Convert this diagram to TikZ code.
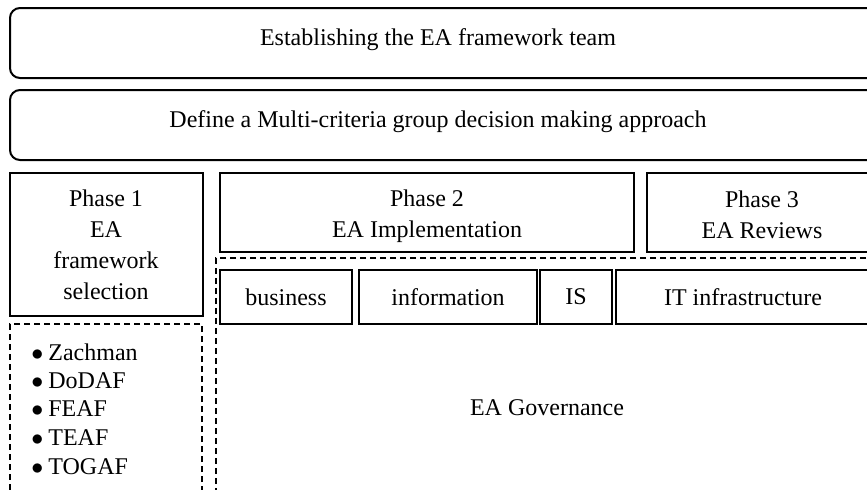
\documentclass[tikz,border=0pt]{standalone}
\usepackage{fontspec}
\setmainfont{Liberation Serif}
\usetikzlibrary{fit}
\newcommand{\bulletitem}[1]{$\bullet$\hspace{2.5pt}#1}
\begin{document}
\begin{tikzpicture}[x=0.5pt,y=-0.5pt,
  roundbox/.style={draw, line width=1pt, rounded corners=5pt, inner sep=0pt},
  phasebox/.style={draw, line width=1pt, inner sep=0pt},
  dashbox/.style={draw, line width=0.8pt, dash pattern=on 3pt off 2pt, inner sep=0pt},
  lbl/.style={font=\fontsize{12}{15.5}\selectfont, align=center, inner sep=0pt},
  item/.style={font=\fontsize{12}{14}\selectfont, anchor=west, inner sep=0pt}]
\clip (0,0) rectangle (867,489);
% top rows
\node[roundbox, fit={(10,8) (890,78)}] (team) {};
\node[lbl] (teamtxt) at (438,40) {Establishing the EA framework team};
\node[roundbox, fit={(10,90) (890,160)}] (mcgdm) {};
\node[lbl] (mcgdmtxt) at (438,122) {Define a Multi-criteria group decision making approach};
% phases
\node[phasebox, fit={(10,173) (203,316)}] (ph1) {};
\node[lbl] (ph1txt) at (106,245) {Phase 1\\EA\\framework\\selection};
\node[phasebox, fit={(220,173) (634,252)}] (ph2) {};
\node[lbl] (ph2txt) at (427,216) {Phase 2\\EA Implementation};
\node[phasebox, fit={(647,173) (890,252)}] (ph3) {};
\node[lbl] (ph3txt) at (762,215) {Phase 3\\EA Reviews};
% frameworks
\node[dashbox, fit={(10,324) (202,500)}] (frames) {};
\node[item] (zach) at (31,352) {\bulletitem{Zachman}};
\node[item] (dodaf) at (31,380.5) {\bulletitem{DoDAF}};
\node[item] (feaf) at (31,409) {\bulletitem{FEAF}};
\node[item] (teaf) at (31,438) {\bulletitem{TEAF}};
\node[item] (togaf) at (31,467) {\bulletitem{TOGAF}};
% governance
\node[dashbox, fit={(216,258) (890,500)}] (gov) {};
\node[phasebox, fit={(220,270) (352,324)}] (bus) {};
\node[lbl] (bustxt) at (286,297) {business};
\node[phasebox, fit={(359,270) (537,324)}] (info) {};
\node[lbl] (infotxt) at (448,297) {information};
\node[phasebox, fit={(540,270) (612,324)}] (is) {};
\node[lbl] (istxt) at (576,297) {IS};
\node[phasebox, fit={(616,270) (890,324)}] (itinf) {};
\node[lbl] (itinftxt) at (743,297) {IT infrastructure};
\node[lbl] (govtxt) at (547,408) {EA Governance};
\end{tikzpicture}
\end{document}
